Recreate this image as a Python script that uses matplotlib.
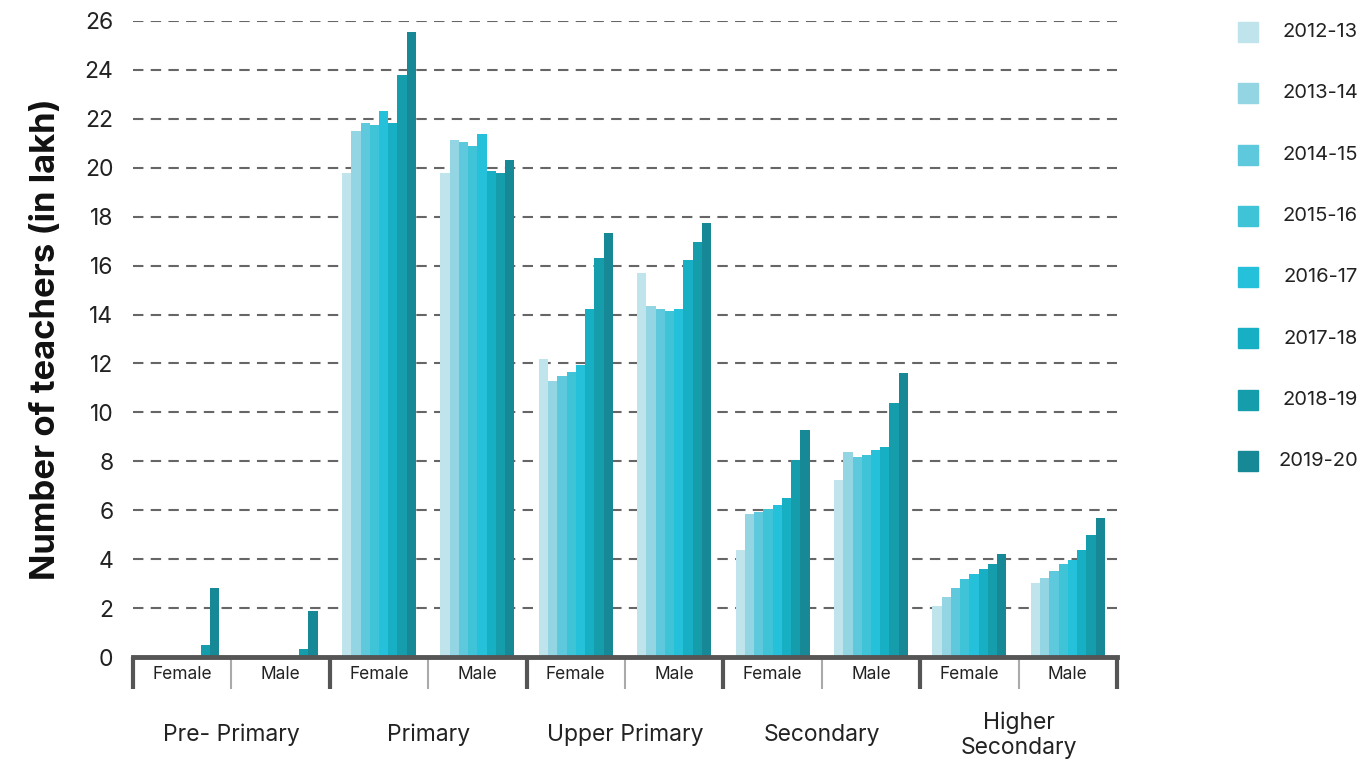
import numpy as np
import matplotlib
matplotlib.use('Agg')
import matplotlib.pyplot as plt
from matplotlib.patches import Rectangle

plt.rcParams['font.family'] = ['Inter', 'DejaVu Sans']

years = ['2012-13', '2013-14', '2014-15', '2015-16', '2016-17', '2017-18', '2018-19', '2019-20']
colors = ['#BFE4EC', '#93D5E3', '#5EC8DC', '#3EC3D7', '#25C0DA', '#16AFC3', '#159DAB', '#178896']

levels = ['Pre- Primary', 'Primary', 'Upper Primary', 'Secondary', 'Higher\nSecondary']
genders = ['Female', 'Male']

# teachers in lakh, one row per group (level x gender), one column per year
pre_primary_f = [0, 0, 0, 0, 0, 0, 0.49, 2.82]
pre_primary_m = [0, 0, 0, 0, 0, 0, 0.33, 1.88]
primary_f = [19.79, 21.50, 21.83, 21.75, 22.32, 21.83, 23.79, 25.55]
primary_m = [19.79, 21.14, 21.05, 20.89, 21.38, 19.87, 19.79, 20.32]
upper_primary_f = [12.18, 11.28, 11.49, 11.65, 11.94, 14.23, 16.31, 17.33]
upper_primary_m = [15.70, 14.35, 14.23, 14.15, 14.23, 16.23, 16.97, 17.74]
secondary_f = [4.37, 5.85, 5.93, 6.05, 6.21, 6.50, 8.05, 9.28]
secondary_m = [7.24, 8.38, 8.18, 8.26, 8.46, 8.59, 10.38, 11.61]
higher_sec_f = [2.08, 2.45, 2.82, 3.19, 3.39, 3.60, 3.80, 4.21]
higher_sec_m = [3.03, 3.23, 3.52, 3.80, 3.97, 4.37, 4.99, 5.68]

groups = [pre_primary_f, pre_primary_m, primary_f, primary_m,
          upper_primary_f, upper_primary_m, secondary_f, secondary_m,
          higher_sec_f, higher_sec_m]
data = np.array(groups)

fig = plt.figure(figsize=(13.72, 7.65), dpi=100)
ax = fig.add_axes([133 / 1372, 108 / 765, 984 / 1372, 636 / 765])

x = np.arange(len(groups))
bw = 0.094
n = len(years)
for i in range(n):
    ax.bar(x + (i - (n - 1) / 2) * bw, data[:, i], width=bw, color=colors[i], zorder=3)

ax.set_xlim(-0.5, len(groups) - 0.5)
ax.set_ylim(0, 26)
ax.set_yticks(np.arange(0, 27, 2))
ax.tick_params(axis='y', length=0, labelsize=16.5, pad=14, labelcolor='#222222')
ax.tick_params(axis='x', length=0, labelbottom=False)
ax.yaxis.grid(True, linestyle=(0, (5, 3.5)), color='#666666', linewidth=1.5, zorder=0)
for s in ['left', 'right', 'top']:
    ax.spines[s].set_visible(False)
ax.spines['bottom'].set_color('#555555')
ax.spines['bottom'].set_linewidth(3.5)
ax.spines['bottom'].set_zorder(4)

ax.set_ylabel('Number of teachers (in lakh)', fontsize=25, fontweight='bold', labelpad=16, color='#111111')

# category separators and labels below the axis
tr = ax.get_xaxis_transform()
for k in range(len(levels) + 1):
    ax.plot([2 * k - 0.5] * 2, [0, -0.05], transform=tr, color='#555555', lw=3, clip_on=False, solid_capstyle='butt')
for k in range(len(levels)):
    ax.plot([2 * k + 0.5] * 2, [0, -0.05], transform=tr, color='#aaaaaa', lw=1.5, clip_on=False, solid_capstyle='butt')
for j in range(len(groups)):
    ax.text(x[j], -0.028, genders[j % 2], transform=tr, ha='center', va='center', fontsize=12.5, color='#222222')
for k, lev in enumerate(levels):
    ax.text(2 * k + 0.5, -0.123, lev, transform=tr, ha='center', va='center', fontsize=16.5, color='#222222', linespacing=1.2)

# legend on the right
for i, yr in enumerate(years):
    yc = 1 - (32 + i * 61.3) / 765
    fig.add_artist(Rectangle((1238 / 1372, yc - 10 / 765), 20 / 1372, 20 / 765, transform=fig.transFigure, color=colors[i]))
    fig.text(1358 / 1372, yc, yr, ha='right', va='center', fontsize=14.5, color='#222222')

plt.savefig('out.png', dpi=100)
plt.close()
